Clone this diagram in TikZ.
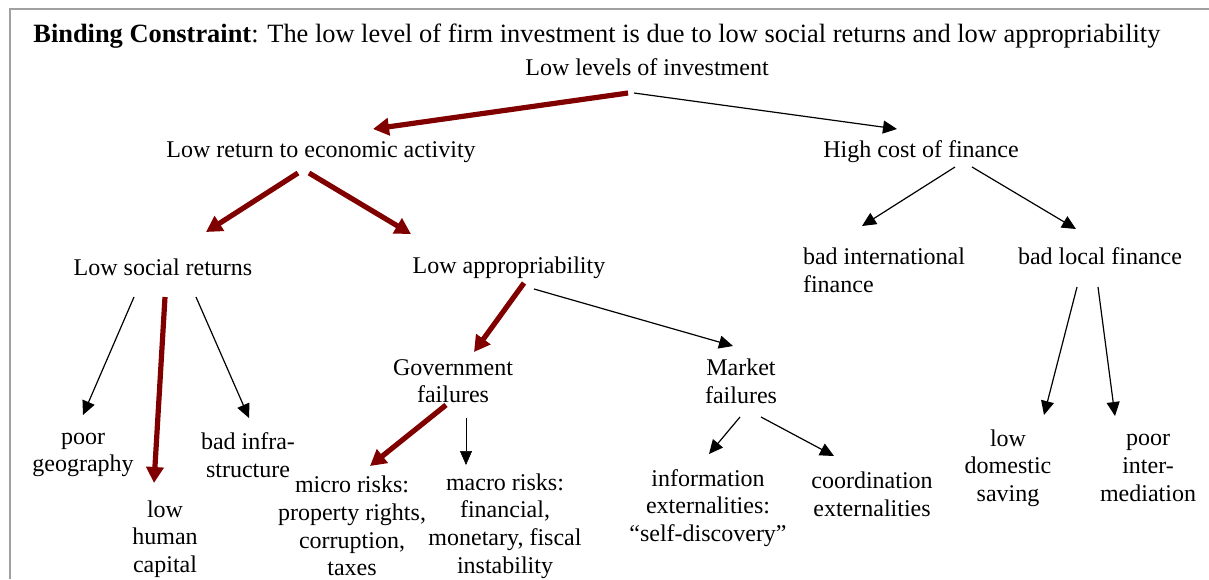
\documentclass[tikz,border=0pt]{standalone}
\usepackage{fontspec}
\setmainfont{Liberation Serif}
\usepackage{tikz}
\usetikzlibrary{arrows.meta,calc}
\definecolor{Binding}{RGB}{128, 0, 0}
\definecolor{Frame}{RGB}{160, 160, 160}

\tikzset{
    lbl/.style={inner sep=0pt, align=center, font=\fontsize{12}{13.8}\selectfont},
    redarr/.style={Binding, line width=2.6pt, -{Triangle[length=8pt,width=8.5pt]}},
    blkarr/.style={black, line width=0.6pt, -{Triangle[length=7pt,width=6.5pt]}},
    thinarr/.style={black, line width=0.25pt, -{Triangle[length=7pt,width=6pt]}}
}

\begin{document}
\begin{tikzpicture}[x=0.5pt, y=-0.5pt]
    %% Background
    \useasboundingbox (0,0) rectangle (1209,579);
    \draw[Frame, line width=0.8pt] (10,579) -- (10,9) -- (1209,9);

    %% Title
    \node[lbl, anchor=west, font=\fontsize{13.2}{15}\selectfont] (title) at (33,36) {\textbf{Binding Constraint}: The low level of firm investment is due to low social returns and low appropriability};

    %% Levels
    \node[lbl] (inv) at (647,67) {Low levels of investment};
    \node[lbl] (ret) at (321,152) {Low return to economic activity};
    \node[lbl] (high) at (921,152) {High cost of finance};
    \node[lbl] (soc) at (163,267) {Low social returns};
    \node[lbl] (app) at (509,268) {Low appropriability};
    \node[lbl, align=left] (intl) at (884,270) {bad international\\finance};
    \node[lbl] (loc) at (1100,256) {bad local finance};
    \node[lbl] (gov) at (453,381) {Government\\failures};
    \node[lbl] (mkt) at (741,381) {Market\\failures};

    %% Leaves
    \node[lbl] (geo) at (83,455) {poor\\geography};
    \node[lbl] (hum) at (165,539) {low\\human\\capital};
    \node[lbl] (infra) at (248,455) {bad infra-\\structure};
    \node[lbl] (micro) at (352,526) {micro risks:\\property rights,\\corruption,\\taxes};
    \node[lbl] (macro) at (505,526) {macro risks:\\financial,\\monetary, fiscal\\instability};
    \node[lbl] (info) at (708,508) {information\\externalities:\\“self-discovery”};
    \node[lbl] (coord) at (872,494) {coordination\\externalities};
    \node[lbl] (sav) at (1008,468) {low\\domestic\\saving};
    \node[lbl] (int) at (1148,468) {poor\\inter-\\mediation};

    %% Binding path
    \draw[redarr] ([shift={(-19,26)}]inv.center) -- ([shift={(52,-23)}]ret.center);
    \draw[redarr] ([shift={(-23,21)}]ret.center) -- ([shift={(43,-35)}]soc.center);
    \draw[redarr] ([shift={(-12,21)}]ret.center) -- ([shift={(-98,-34)}]app.center);
    \draw[redarr] ([shift={(2,30)}]soc.center) -- ([shift={(-11,-56)}]hum.center);
    \draw[redarr] ([shift={(15,15)}]app.center) -- ([shift={(21,-29)}]gov.center);
    \draw[redarr] ([shift={(-7,24)}]gov.center) -- ([shift={(18,-60)}]micro.center);

    %% Other branches
    \draw[blkarr] ([shift={(-13,26)}]inv.center) -- ([shift={(-24,-23)}]high.center);
    \draw[blkarr] ([shift={(34,15)}]high.center) -- ([shift={(-22,-44)}]intl.center);
    \draw[blkarr] ([shift={(51,15)}]high.center) -- ([shift={(-24,-27)}]loc.center);
    \draw[blkarr] ([shift={(-29,30)}]soc.center) -- ([shift={(0,-40)}]geo.center);
    \draw[blkarr] ([shift={(33,30)}]soc.center) -- ([shift={(1,-37)}]infra.center);
    \draw[blkarr] ([shift={(25,21)}]app.center) -- ([shift={(-8,-35)}]mkt.center);
    \draw[thinarr] ([shift={(13,37)}]gov.center) -- ([shift={(-39,-61)}]macro.center);
    \draw[blkarr] ([shift={(-1,36)}]mkt.center) -- ([shift={(1,-54)}]info.center);
    \draw[blkarr] ([shift={(20,36)}]mkt.center) -- ([shift={(-38,-38)}]coord.center);
    \draw[blkarr] ([shift={(-23,31)}]loc.center) -- ([shift={(36,-53)}]sav.center);
    \draw[blkarr] ([shift={(-2,31)}]loc.center) -- ([shift={(-33,-52)}]int.center);
\end{tikzpicture}
\end{document}
